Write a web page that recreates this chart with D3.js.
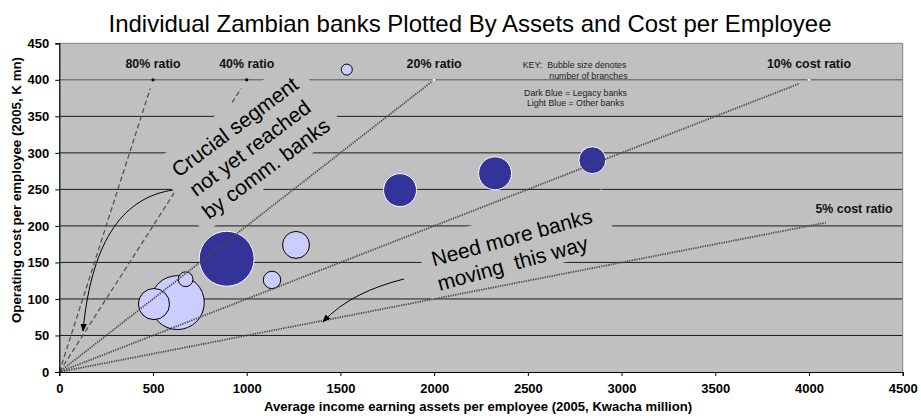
<!DOCTYPE html>
<html>
<head>
<meta charset="utf-8">
<script src="https://cdn.jsdelivr.net/npm/d3@7"></script>
<style>
  body { margin: 0; background: #fff; }
  svg { display: block; font-family: "Liberation Sans", Arial, sans-serif; }
</style>
</head>
<body>
<svg id="chart" width="921" height="416"></svg>
<script>
// ---- chart text ----
const chartTitle = "Individual Zambian banks Plotted By Assets and Cost per Employee";
const xAxisTitle = "Average income earning assets per employee (2005, Kwacha million)";
const yAxisTitle = "Operating cost per employee (2005, K mn)";

// ---- axis ticks ----
const xTicks = [0, 500, 1000, 1500, 2000, 2500, 3000, 3500, 4000, 4500];
const yTicks = [0, 50, 100, 150, 200, 250, 300, 350, 400, 450];

// ---- banks: assets per employee (K million), cost per employee (K mn), branches ----
const bankAssets   = [1534, 1818, 2325, 2844, 893, 1263, 1135, 630, 505, 674];
const bankCost     = [414, 249, 272, 290, 155, 174, 126, 95, 93, 127];
const bankBranches = [1, 9, 9, 6, 25, 6, 2.5, 24, 8, 1.8];
const bankLegacy   = [false, true, true, true, true, false, false, false, false, false];

// ---- cost-ratio reference lines (cost = ratio x assets) ----
const ratioValues    = [0.8, 0.4, 0.2, 0.1, 0.05];
const ratioEndAssets = [485, 970, 1985, 3950, 4090];
const ratioLabels    = ["80% ratio", "40% ratio", "20% ratio", "10% cost ratio", "5% cost ratio"];
const ratioLabelX    = [500, 1000, 2000, 4000, 4240];
const ratioLabelY    = [422, 422, 422, 422, 224];
const ratioDashed    = [true, true, false, false, false];

// marker points on the 400 line
const refPointAssets = [500, 1000, 2000, 4000];
const refPointCost   = [400, 400, 400, 400];
const refPointDark   = [true, true, false, false];

// key text
const keyLines1 = ["KEY:  Bubble size denotes", "number of branches"];
const keyLines2 = ["Dark Blue = Legacy banks", "Light Blue = Other banks"];

// call-out text
const calloutSegment = ["Crucial segment", "not yet reached", "by comm. banks"];
const calloutMove    = ["Need more banks", "moving  this way"];

// ---- layout ----
const svg = d3.select("#chart");
const plot = { left: 59.3, right: 902.7, top: 43.3, bottom: 372 };
const FONT = '"Liberation Sans", Arial, sans-serif';

const x = d3.scaleLinear().domain([0, 4500]).range([plot.left, plot.right]);
const y = d3.scaleLinear().domain([0, 450]).range([plot.bottom, plot.top]);
const r = d3.scaleSqrt().domain([0, 25]).range([0, 27.5]);

// arrow head
svg.append("defs").append("marker")
  .attr("id", "arrowHead")
  .attr("viewBox", "0 0 10 10")
  .attr("refX", 9).attr("refY", 5)
  .attr("markerWidth", 8).attr("markerHeight", 8)
  .attr("markerUnits", "userSpaceOnUse")
  .attr("orient", "auto")
  .append("path").attr("d", "M0,1 L10,5 L0,9 Z").attr("fill", "#000");

// plot background
svg.append("rect")
  .attr("x", plot.left).attr("y", plot.top)
  .attr("width", plot.right - plot.left).attr("height", plot.bottom - plot.top)
  .attr("fill", "#c0c0c0");

// horizontal gridlines
svg.append("g").selectAll("line")
  .data(yTicks.filter(v => v > 0 && v < 450))
  .join("line")
  .attr("x1", plot.left).attr("x2", plot.right)
  .attr("y1", d => y(d)).attr("y2", d => y(d))
  .attr("stroke", d => d === 400 ? "#555" : "#1a1a1a")
  .attr("stroke-width", 1);

// top and right frame
svg.append("path")
  .attr("d", `M${plot.left},${plot.top}H${plot.right}V${plot.bottom}`)
  .attr("fill", "none").attr("stroke", "#808080").attr("stroke-width", 1);

// bubbles
const banks = bankAssets.map((a, i) => ({
  assets: a, cost: bankCost[i], branches: bankBranches[i], legacy: bankLegacy[i]
}));
svg.append("g").selectAll("circle")
  .data(banks)
  .join("circle")
  .attr("cx", d => x(d.assets))
  .attr("cy", d => y(d.cost))
  .attr("r", d => r(d.branches))
  .attr("fill", d => d.legacy ? "#333399" : "#ccccff")
  .attr("stroke", d => d.legacy ? "#ffffff" : "#000000")
  .attr("stroke-width", 1);

// ratio lines
const ratios = ratioValues.map((v, i) => ({
  ratio: v, end: ratioEndAssets[i], dashed: ratioDashed[i]
}));
svg.append("g").selectAll("line")
  .data(ratios)
  .join("line")
  .attr("x1", x(0)).attr("y1", y(0))
  .attr("x2", d => x(d.end)).attr("y2", d => y(d.end * d.ratio))
  .attr("stroke", d => d.dashed ? "#555" : "#4a4a4a")
  .attr("stroke-width", d => d.dashed ? 1.3 : 1.8)
  .attr("stroke-dasharray", d => d.dashed ? "5,3" : "1.3,1.1");

// call-out boxes (background-filled so they mask what lies beneath)
function callout(cx, cy, angle, w, h, lines, lineY, lineShift, size) {
  const g = svg.append("g").attr("transform", `translate(${cx},${cy}) rotate(${angle})`);
  g.append("rect")
    .attr("x", -w / 2).attr("y", -h / 2).attr("width", w).attr("height", h)
    .attr("fill", "#c0c0c0");
  g.selectAll("text").data(lines).join("text")
    .attr("x", (d, i) => lineShift[i])
    .attr("y", (d, i) => lineY[i])
    .attr("dy", "0.35em")
    .attr("text-anchor", "middle")
    .attr("font-size", size)
    .attr("fill", "#000")
    .style("white-space", "pre")
    .text(d => d);
}
callout(248.8, 145.6, -36.7, 176, 88, calloutSegment, [-23.4, 2.6, 28.6], [0, -0.5, 0], 21);
callout(516.9, 244.2, -15.4, 193.5, 60.5, calloutMove, [-7.9, 17.2], [-3.2, -9.3], 21);

// curved arrows
svg.append("path")
  .attr("d", "M173,190 C126,197 92,236 83,331")
  .attr("fill", "none").attr("stroke", "#000").attr("stroke-width", 1)
  .attr("marker-end", "url(#arrowHead)");
svg.append("path")
  .attr("d", "M404,279 C372,287 343,300 323,322")
  .attr("fill", "none").attr("stroke", "#000").attr("stroke-width", 1)
  .attr("marker-end", "url(#arrowHead)");

// reference points on the 400 line
svg.append("g").selectAll("circle")
  .data(refPointAssets.map((a, i) => ({ a, c: refPointCost[i], dark: refPointDark[i] })))
  .join("circle")
  .attr("cx", d => x(d.a)).attr("cy", d => y(d.c))
  .attr("r", 1.6)
  .attr("fill", d => d.dark ? "#000" : "#fff")
  .attr("stroke", d => d.dark ? "none" : "#888")
  .attr("stroke-width", 0.5);

// ratio labels
svg.append("g").selectAll("text")
  .data(ratioLabels)
  .join("text")
  .attr("x", (d, i) => x(ratioLabelX[i]))
  .attr("y", (d, i) => y(ratioLabelY[i]))
  .attr("dy", "0.35em")
  .attr("text-anchor", "middle")
  .attr("font-size", 12.4)
  .attr("font-weight", "bold")
  .attr("fill", "#111")
  .text(d => d);

// key
svg.append("g").selectAll("text")
  .data(keyLines1)
  .join("text")
  .attr("x", (d, i) => i === 0 ? 522.7 : 549.3)
  .attr("y", (d, i) => 68 + i * 10.5)
  .attr("font-size", 8.8)
  .attr("fill", "#222")
  .style("white-space", "pre")
  .text(d => d);
svg.append("g").selectAll("text")
  .data(keyLines2)
  .join("text")
  .attr("x", 575.5)
  .attr("y", (d, i) => 95.5 + i * 10)
  .attr("text-anchor", "middle")
  .attr("font-size", 8.8)
  .attr("fill", "#222")
  .text(d => d);

// axes
const xAxis = d3.axisBottom(x).tickValues(xTicks).tickSize(4).tickPadding(8).tickFormat(d3.format("d"));
const yAxis = d3.axisLeft(y).tickValues(yTicks).tickSize(4).tickPadding(6).tickFormat(d3.format("d"));

const gx = svg.append("g").attr("transform", `translate(0,${plot.bottom})`).call(xAxis);
const gy = svg.append("g").attr("transform", `translate(${plot.left},0)`).call(yAxis);
[gx, gy].forEach(g => {
  g.select(".domain").attr("stroke", "#000").attr("stroke-width", 1.2);
  g.selectAll(".tick line").attr("stroke", "#000");
  g.selectAll(".tick text")
    .attr("font-family", FONT).attr("font-size", 13).attr("font-weight", "bold").attr("fill", "#000");
});

// title
svg.append("text")
  .attr("x", 470).attr("y", 31.5)
  .attr("text-anchor", "middle")
  .attr("font-size", 24)
  .attr("fill", "#000")
  .text(chartTitle);

// axis titles
svg.append("text")
  .attr("x", 478).attr("y", 410.5)
  .attr("text-anchor", "middle")
  .attr("font-size", 13.1)
  .attr("font-weight", "bold")
  .text(xAxisTitle);
svg.append("text")
  .attr("transform", "translate(21,190) rotate(-90)")
  .attr("text-anchor", "middle")
  .attr("font-size", 13.3)
  .attr("font-weight", "bold")
  .text(yAxisTitle);
</script>
</body>
</html>
